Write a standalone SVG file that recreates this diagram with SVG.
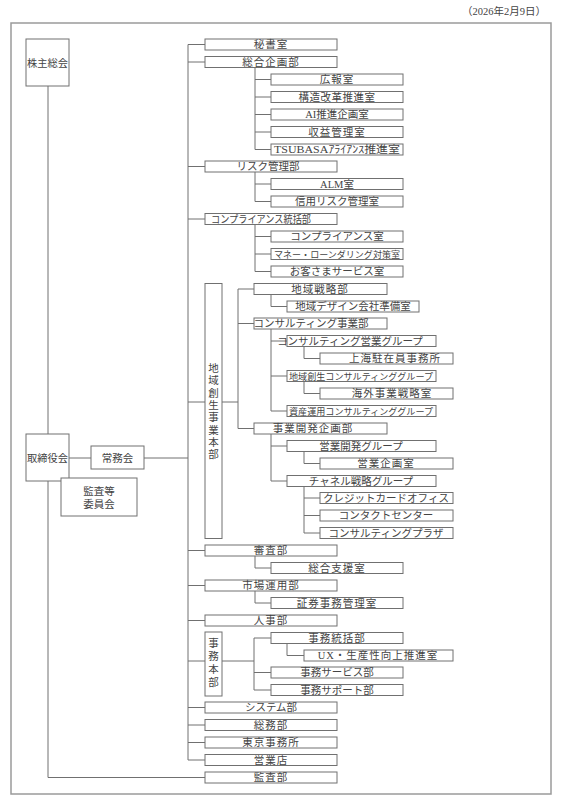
<svg xmlns="http://www.w3.org/2000/svg" width="563" height="800" viewBox="0 0 563 800">
<style>
rect.b{fill:#fff;stroke:#707070;stroke-width:1}
rect.f{fill:none;stroke:#9a9a9a;stroke-width:1.5}
text{font-family:"Liberation Serif","Noto Sans CJK JP",serif;font-size:10.5px;fill:#444;text-anchor:middle}
text.s{font-size:9px}
#connectors path{fill:none;stroke:#707070;stroke-width:1}
</style>
<rect width="563" height="800" fill="#fff"/>
<rect class="f" x="11" y="23" width="540" height="771"/>
<text x="546" y="15" style="text-anchor:end">（2026年2月9日）</text>
<g id="connectors">
<path d="M188 44.5V760M188 44.5H205M188 62H205M188 166.5H205M188 219H205M188 402H205M222 402H238M188 550.5H205M188 585.5H205M188 620.5H205M188 661H205M222 661H254M188 707.5H205M188 725H205M188 742.5H205M188 760H205M144 458H188M69 458H91M48 86V434M48 481V777.5H205"/>
<path d="M255 67.5V149.5M255 79.5H271M255 97H271M255 114.5H271M255 132H271M255 149.5H271M255 172V201.5M255 184H271M255 201.5H271M255 224.5V271.5M255 236.5H271M255 254H271M255 271.5H271M255 556V568H271M255 591V603H271"/>
<path d="M238 289V428.5M238 289H254M238 323.5H254M238 428.5H254M271 294.5V306.5H287M271 329V411M271 341H287M271 376H287M271 411H287M304 346.5V358.5H320M304 381.5V393.5H320M271 434V481M271 446H287M271 481H287M304 451.5V463.5H320M304 486.5V533M304 498H320M304 515.5H320M304 533H320"/>
<path d="M254 638V690M254 638H271M254 672.5H271M254 690H271M287 643.5V655.5H304"/>
</g>
<g id="kabunushi"><rect class="b" x="26" y="39" width="43" height="47"/><text x="47.5" y="66.5" textLength="41" lengthAdjust="spacingAndGlyphs">株主総会</text></g>
<g id="torishimariyaku"><rect class="b" x="26" y="434" width="43" height="47"/><text x="47.5" y="461.5" textLength="41" lengthAdjust="spacingAndGlyphs">取締役会</text></g>
<g id="jomukai"><rect class="b" x="91" y="446" width="53" height="23"/><text x="117.5" y="461.5">常務会</text></g>
<g id="kansatou"><rect class="b" x="61" y="478" width="76" height="38"/><text x="99" y="494.5">監査等</text><text x="99" y="508">委員会</text></g>

<g id="hisho"><rect class="b" x="205" y="39" width="132" height="11"/><text x="271" y="48.3" letter-spacing="1">秘書室</text></g>
<g id="sogokikaku"><rect class="b" x="205" y="56.5" width="132" height="11"/><text x="271" y="65.8" letter-spacing="1">総合企画部</text></g>
<g id="koho"><rect class="b" x="271" y="74" width="132" height="11"/><text x="337" y="83.3" letter-spacing="1">広報室</text></g>
<g id="kozokaikaku"><rect class="b" x="271" y="91.5" width="132" height="11"/><text x="337" y="100.8" letter-spacing="0.5">構造改革推進室</text></g>
<g id="ai"><rect class="b" x="271" y="109" width="132" height="11"/><text x="337" y="118.3">AI推進企画室</text></g>
<g id="shueki"><rect class="b" x="271" y="126.5" width="132" height="11"/><text x="337" y="135.8" letter-spacing="1">収益管理室</text></g>
<g id="tsubasa"><rect class="b" x="271" y="144" width="132" height="11"/><text x="337" y="153.3" textLength="126" lengthAdjust="spacingAndGlyphs">TSUBASAｱﾗｲｱﾝｽ推進室</text></g>
<g id="risk"><rect class="b" x="205" y="161" width="132" height="11"/><text x="268" y="170.3">リスク管理部</text></g>
<g id="alm"><rect class="b" x="271" y="178.5" width="132" height="11"/><text x="337" y="187.8">ALM室</text></g>
<g id="shinyo"><rect class="b" x="271" y="196" width="132" height="11"/><text x="337" y="205.3">信用リスク管理室</text></g>
<g id="compliancetokatsu"><rect class="b" x="205" y="213.5" width="132" height="11"/><text x="211" y="222.8" style="text-anchor:start" textLength="100" lengthAdjust="spacingAndGlyphs">コンプライアンス統括部</text></g>
<g id="compliance"><rect class="b" x="271" y="231" width="132" height="11"/><text x="337" y="240.3">コンプライアンス室</text></g>
<g id="money"><rect class="b" x="271" y="248.5" width="132" height="11"/><text x="337" y="257.5" class="s" textLength="126" lengthAdjust="spacingAndGlyphs">マネー・ローンダリング対策室</text></g>
<g id="okyakusama"><rect class="b" x="271" y="266" width="132" height="11"/><text x="337" y="275.3">お客さまサービス室</text></g>

<g id="chiikisosei"><rect class="b" x="205" y="283.5" width="17" height="255"/>
<text x="213.5" y="372">地</text><text x="213.5" y="384.3">域</text><text x="213.5" y="396.6">創</text><text x="213.5" y="408.9">生</text><text x="213.5" y="421.2">事</text><text x="213.5" y="433.5">業</text><text x="213.5" y="445.8">本</text><text x="213.5" y="458.1">部</text></g>
<g id="chiikisenryaku"><rect class="b" x="254" y="283.5" width="133" height="11"/><text x="320" y="292.8" letter-spacing="1">地域戦略部</text></g>
<g id="chiikidesign"><rect class="b" x="287" y="301" width="132" height="11"/><text x="353" y="310.3">地域デザイン会社準備室</text></g>
<g id="consuljigyo"><rect class="b" x="254" y="318" width="133" height="11"/><text x="311" y="327.3">コンサルティング事業部</text></g>
<g id="consuleigyo"><rect class="b" x="287" y="335.5" width="149" height="11"/><text x="350" y="344.8">コンサルティング営業グループ</text></g>
<g id="shanghai"><rect class="b" x="320" y="353" width="133" height="11"/><text x="395" y="362.3" letter-spacing="1">上海駐在員事務所</text></g>
<g id="chiikiconsul"><rect class="b" x="287" y="370.5" width="149" height="11"/><text x="361" y="379.5" class="s" textLength="144" lengthAdjust="spacingAndGlyphs">地域創生コンサルティンググループ</text></g>
<g id="kaigai"><rect class="b" x="320" y="388" width="133" height="11"/><text x="392" y="397.3" letter-spacing="1">海外事業戦略室</text></g>
<g id="shisanunyo"><rect class="b" x="287" y="405.5" width="149" height="11"/><text x="361" y="414.5" class="s" textLength="144" lengthAdjust="spacingAndGlyphs">資産運用コンサルティンググループ</text></g>
<g id="jigyokaihatsu"><rect class="b" x="254" y="423" width="133" height="11"/><text x="313" y="432.3" letter-spacing="1">事業開発企画部</text></g>
<g id="eigyokaihatsu"><rect class="b" x="287" y="440.5" width="149" height="11"/><text x="361" y="449.8">営業開発グループ</text></g>
<g id="eigyokikaku"><rect class="b" x="320" y="458" width="133" height="11"/><text x="386" y="467.3" letter-spacing="1">営業企画室</text></g>
<g id="channel"><rect class="b" x="287" y="475.5" width="149" height="11"/><text x="361" y="484.8">チャネル戦略グループ</text></g>
<g id="credit"><rect class="b" x="320" y="492.5" width="133" height="11"/><text x="386" y="501.8">クレジットカードオフィス</text></g>
<g id="contact"><rect class="b" x="320" y="510" width="133" height="11"/><text x="386" y="519.3">コンタクトセンター</text></g>
<g id="plaza"><rect class="b" x="320" y="527.5" width="133" height="11"/><text x="386" y="536.8">コンサルティングプラザ</text></g>

<g id="shinsa"><rect class="b" x="205" y="545" width="132" height="11"/><text x="271" y="554.3" letter-spacing="1">審査部</text></g>
<g id="sogoshien"><rect class="b" x="271" y="562.5" width="132" height="11"/><text x="337" y="571.8" letter-spacing="1">総合支援室</text></g>
<g id="shijo"><rect class="b" x="205" y="580" width="132" height="11"/><text x="271" y="589.3" letter-spacing="1">市場運用部</text></g>
<g id="shoken"><rect class="b" x="271" y="597.5" width="132" height="11"/><text x="337" y="606.8" letter-spacing="1">証券事務管理室</text></g>
<g id="jinji"><rect class="b" x="205" y="615" width="132" height="11"/><text x="271" y="624.3" letter-spacing="1">人事部</text></g>
<g id="jimuhonbu"><rect class="b" x="205" y="632" width="17" height="64"/>
<text x="213.5" y="647">事</text><text x="213.5" y="660">務</text><text x="213.5" y="673">本</text><text x="213.5" y="686">部</text></g>
<g id="jimutokatsu"><rect class="b" x="271" y="632.5" width="132" height="11"/><text x="337" y="641.8" letter-spacing="1">事務統括部</text></g>
<g id="ux"><rect class="b" x="304" y="650" width="149" height="11"/><text x="378" y="659.3" letter-spacing="1">UX・生産性向上推進室</text></g>
<g id="jimuservice"><rect class="b" x="271" y="667" width="132" height="11"/><text x="337" y="676.3">事務サービス部</text></g>
<g id="jimusupport"><rect class="b" x="271" y="684.5" width="132" height="11"/><text x="337" y="693.8">事務サポート部</text></g>
<g id="system"><rect class="b" x="205" y="702" width="132" height="11"/><text x="271" y="711.3">システム部</text></g>
<g id="somu"><rect class="b" x="205" y="719.5" width="132" height="11"/><text x="271" y="728.8" letter-spacing="1">総務部</text></g>
<g id="tokyo"><rect class="b" x="205" y="737" width="132" height="11"/><text x="271" y="746.3" letter-spacing="1">東京事務所</text></g>
<g id="eigyoten"><rect class="b" x="205" y="754.5" width="132" height="11"/><text x="271" y="763.8" letter-spacing="1">営業店</text></g>
<g id="kansa"><rect class="b" x="205" y="772" width="132" height="11"/><text x="271" y="781.3" letter-spacing="1">監査部</text></g>
</svg>
